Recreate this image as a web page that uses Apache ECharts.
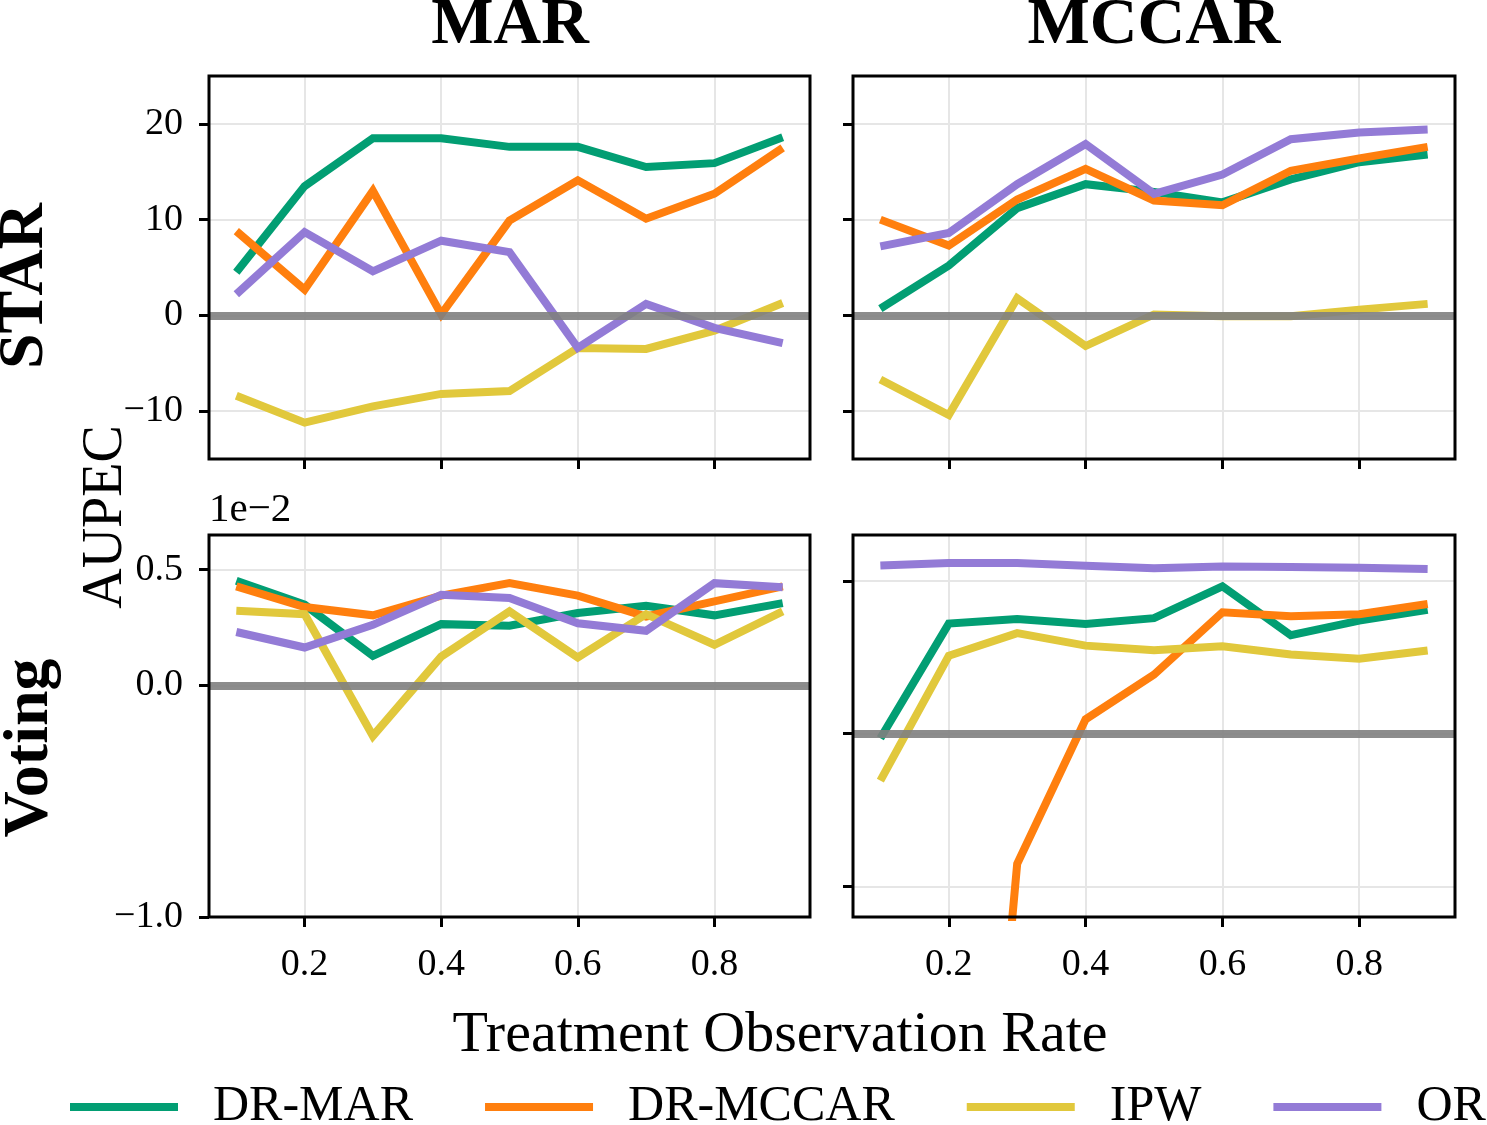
<!DOCTYPE html>
<html>
<head>
<meta charset="utf-8">
<script src="https://cdn.jsdelivr.net/npm/echarts@6/dist/echarts.min.js"></script>
<style>
  html, body { margin: 0; padding: 0; background: #fff; }
</style>
</head>
<body>
<div id="main" style="width: 1487px;height:1125px;"></div>
<script>
// treatment observation rate
var xs = [0.1, 0.2, 0.3, 0.4, 0.5, 0.6, 0.7, 0.8, 0.9]
var names = ['DR-MAR', 'DR-MCCAR', 'IPW', 'OR']
var colors = ['#029e73', '#ff7f0e', '#e1c83c', '#937bd6']

// STAR, MAR
var star_mar_dr_mar = [4.5, 13.5, 18.5, 18.5, 17.6, 17.6, 15.5, 15.9, 18.6]
var star_mar_dr_mccar = [8.8, 2.7, 13.0, 0.1, 9.9, 14.1, 10.1, 12.7, 17.5]
var star_mar_ipw = [-8.4, -11.2, -9.5, -8.2, -7.9, -3.4, -3.5, -1.6, 1.3]
var star_mar_or = [2.2, 8.7, 4.6, 7.8, 6.6, -3.4, 1.2, -1.3, -2.9]
// STAR, MCCAR
var star_mccar_dr_mar = [0.7, 5.2, 11.2, 13.7, 12.9, 11.8, 14.2, 16.0, 16.8]
var star_mccar_dr_mccar = [10.0, 7.3, 12.1, 15.3, 12.0, 11.5, 15.1, 16.4, 17.6]
var star_mccar_ipw = [-6.7, -10.4, 1.8, -3.2, 0.1, -0.1, -0.1, 0.6, 1.2]
var star_mccar_or = [7.2, 8.6, 13.7, 17.9, 12.7, 14.7, 18.4, 19.1, 19.4]
// Voting, MAR (x 1e-2)
var voting_mar_dr_mar = [0.452, 0.349, 0.128, 0.265, 0.258, 0.313, 0.344, 0.303, 0.356]
var voting_mar_dr_mccar = [0.428, 0.339, 0.303, 0.388, 0.442, 0.388, 0.298, 0.363, 0.428]
var voting_mar_ipw = [0.323, 0.308, -0.218, 0.125, 0.320, 0.121, 0.308, 0.176, 0.320]
var voting_mar_or = [0.231, 0.164, 0.262, 0.392, 0.378, 0.269, 0.236, 0.442, 0.424]
// Voting, MCCAR
var voting_mccar_dr_mar = [-0.015, 0.360, 0.375, 0.359, 0.378, 0.482, 0.322, 0.370, 0.405]
var voting_mccar_dr_mccar = [-4.0, -2.9, -0.426, 0.047, 0.193, 0.397, 0.384, 0.391, 0.424]
var voting_mccar_ipw = [-0.154, 0.255, 0.329, 0.288, 0.273, 0.286, 0.259, 0.245, 0.272]
var voting_mccar_or = [0.550, 0.558, 0.558, 0.549, 0.541, 0.547, 0.545, 0.543, 0.539]

// ticks
var xTicks = [0.2, 0.4, 0.6, 0.8]
var starTicks = [-10, 0, 10, 20]
var votingMarTicks = [-1.0, 0.0, 0.5]
var votingMccarTicks = [-0.5, 0.0, 0.5]

var FONT = '"Liberation Serif", "DejaVu Serif", serif'

var panels = [
  { grid: { left: 209, top: 76, width: 601, height: 383 }, ymin: -15, ymax: 25, yticks: starTicks, ylab: true, xlab: false, dec: 0,
    data: [star_mar_dr_mar, star_mar_dr_mccar, star_mar_ipw, star_mar_or] },
  { grid: { left: 853, top: 76, width: 602, height: 383 }, ymin: -15, ymax: 25, yticks: starTicks, ylab: false, xlab: false, dec: 0,
    data: [star_mccar_dr_mar, star_mccar_dr_mccar, star_mccar_ipw, star_mccar_or] },
  { grid: { left: 209, top: 535, width: 601, height: 382 }, ymin: -1.0, ymax: 0.65, yticks: votingMarTicks, ylab: true, xlab: true, dec: 1,
    data: [voting_mar_dr_mar, voting_mar_dr_mccar, voting_mar_ipw, voting_mar_or] },
  { grid: { left: 853, top: 535, width: 602, height: 382 }, ymin: -0.6, ymax: 0.65, yticks: votingMccarTicks, ylab: false, xlab: true, dec: 1,
    data: [voting_mccar_dr_mar, voting_mccar_dr_mccar, voting_mccar_ipw, voting_mccar_or] }
]

function minus(s) { return String(s).replace('-', '\u2212') }

var grids = [], xAxes = [], yAxes = [], series = []
panels.forEach(function (p, i) {
  grids.push(Object.assign({ show: true, borderColor: '#000', borderWidth: 3, backgroundColor: 'transparent', z: 10 }, p.grid))
  xAxes.push({
    type: 'value', gridIndex: i, min: 0.06, max: 0.94,
    axisLine: { show: false, onZero: false },
    axisTick: { show: true, length: 10, lineStyle: { color: '#000', width: 3 }, customValues: xTicks },
    axisLabel: { show: p.xlab, customValues: xTicks, margin: 29, color: '#000', fontFamily: FONT, fontSize: 38,
      formatter: function (v) { return v.toFixed(1) } },
    splitLine: { show: true, lineStyle: { color: '#e6e6e6', width: 2 } }
  })
  yAxes.push({
    type: 'value', gridIndex: i, min: p.ymin, max: p.ymax,
    axisLine: { show: false, onZero: false },
    axisTick: { show: true, length: 10, lineStyle: { color: '#000', width: 3 }, customValues: p.yticks },
    axisLabel: { show: p.ylab, customValues: p.yticks, margin: 26, color: '#000', fontFamily: FONT, fontSize: 38,
      formatter: function (v) { return minus(v.toFixed(p.dec)) } },
    splitLine: { show: true, lineStyle: { color: '#e6e6e6', width: 2 } }
  })
  p.data.forEach(function (arr, k) {
    var s = {
      name: names[k], type: 'line', xAxisIndex: i, yAxisIndex: i,
      data: xs.map(function (x, j) { return [x, arr[j]] }),
      showSymbol: false, symbol: 'none', silent: true, animation: false,
      color: colors[k],
      lineStyle: { color: colors[k], width: 8, cap: 'butt', join: 'miter' }
    }
    if (k === 3) {
      s.markLine = {
        silent: true, symbol: 'none', animation: false,
        label: { show: false },
        lineStyle: { color: '#7f7f7f', width: 8, type: 'solid', opacity: 0.9 },
        data: [{ yAxis: 0 }]
      }
    }
    series.push(s)
  })
})

var texts = [
  { text: 'MAR', x: 510, y: 26, size: 66, bold: true, rot: 0, align: 'center' },
  { text: 'MCCAR', x: 1154, y: 26, size: 66, bold: true, rot: 0, align: 'center' },
  { text: 'STAR', x: 25, y: 286, size: 64, bold: true, rot: Math.PI / 2, align: 'center' },
  { text: 'Voting', x: 30, y: 748, size: 64, bold: true, rot: Math.PI / 2, align: 'center' },
  { text: 'AUPEC', x: 106, y: 517, size: 56, bold: false, rot: Math.PI / 2, align: 'center' },
  { text: '1e\u22122', x: 209, y: 510, size: 41, bold: false, rot: 0, align: 'left' },
  { text: 'Treatment Observation Rate', x: 780, y: 1036, size: 58, bold: false, rot: 0, align: 'center' }
]

var myChart = echarts.init(document.getElementById('main'))
myChart.setOption({
  backgroundColor: '#fff',
  animation: false,
  textStyle: { fontFamily: FONT },
  grid: grids,
  xAxis: xAxes,
  yAxis: yAxes,
  legend: {
    data: names, left: 70, top: 1082, padding: 0, icon: 'rect', itemWidth: 108, itemHeight: 8, itemGap: 72,
    textStyle: { fontFamily: FONT, fontSize: 50, color: '#000', padding: [0, 0, 0, 30] }
  },
  graphic: texts.map(function (t) {
    return {
      type: 'text', x: t.x, y: t.y, rotation: t.rot, z: 20,
      style: { text: t.text, fill: '#000', font: (t.bold ? 'bold ' : '') + t.size + 'px ' + FONT,
        textAlign: t.align, textVerticalAlign: 'middle' }
    }
  }),
  series: series
})
</script>
</body>
</html>
